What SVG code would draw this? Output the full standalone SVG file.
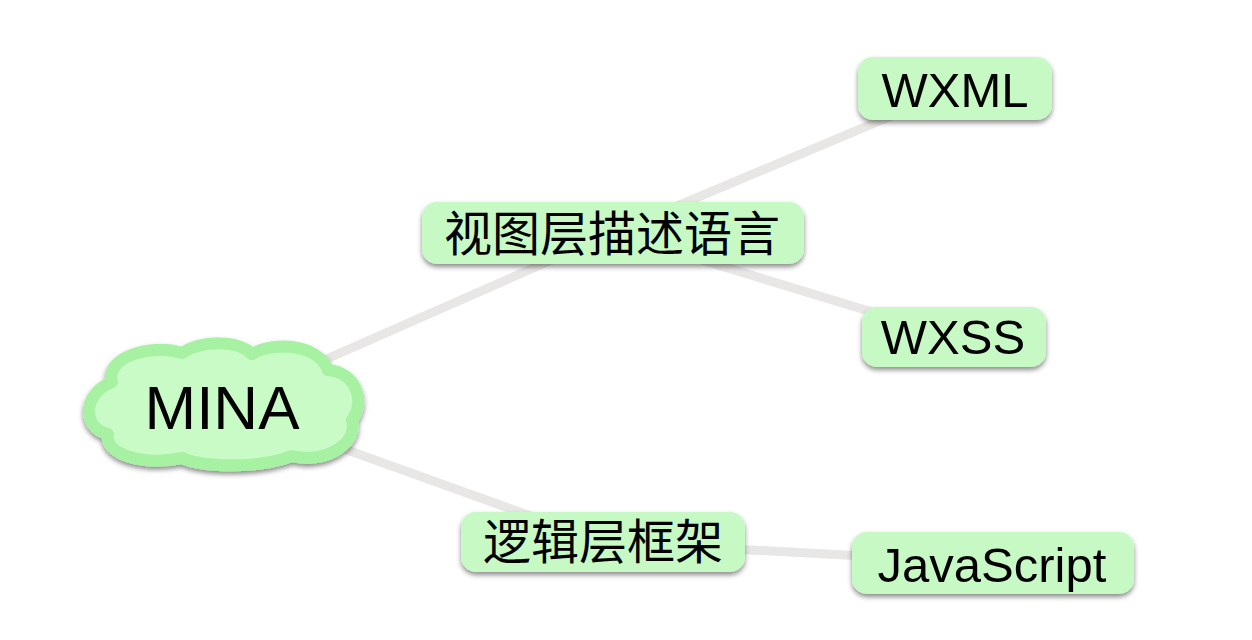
<svg xmlns="http://www.w3.org/2000/svg" width="1252" height="640" viewBox="0 0 1252 640">
<defs>
<filter id="sh" x="-20%" y="-30%" width="140%" height="170%">
<feDropShadow dx="0" dy="3" stdDeviation="2.5" flood-color="#000" flood-opacity="0.45"/>
</filter>
<style>
.box{fill:#c7f9c4;filter:url(#sh);}
.t{font-family:"Liberation Sans",Arial,sans-serif;font-size:49px;fill:#000;text-anchor:middle;}
.c{font-family:"Noto Sans CJK SC",sans-serif;font-size:48px;fill:#000;text-anchor:middle;}
.ln{stroke:#e9e7e6;stroke-width:9;stroke-linecap:round;fill:none;}
</style>
</defs>
<rect width="1252" height="640" fill="#fff"/>
<g id="connectors">
<line class="ln" x1="222" y1="405" x2="613" y2="233"/>
<line class="ln" x1="613" y1="233" x2="955" y2="89"/>
<line class="ln" x1="613" y1="233" x2="954" y2="337"/>
<line class="ln" x1="222" y1="405" x2="603" y2="542"/>
<line class="ln" x1="603" y1="542" x2="993" y2="563"/>
</g>
<g id="mina">
<path filter="url(#sh)" d="M112,382 C104,358 150,343 182,353 C202,340 238,340 252,354 C274,341 318,344 328,370 C356,372 366,402 352,420 C358,446 322,464 292,456 C262,468 204,468 182,458 C142,466 104,454 108,434 C82,428 82,394 112,382 Z" fill="#c8fbc5" stroke="#a6f1a2" stroke-width="12" stroke-linejoin="round"/>
<text class="t" x="222" y="429" style="font-size:62px">MINA</text>
</g>
<g id="view">
<rect class="box" x="422" y="202" width="382" height="62" rx="15"/>
<text class="c" x="612" y="251">视图层描述语言</text>
</g>
<g id="wxml">
<rect class="box" x="858" y="57" width="194" height="63" rx="15"/>
<text class="t" x="955" y="107">WXML</text>
</g>
<g id="wxss">
<rect class="box" x="862" y="307" width="184" height="60" rx="15"/>
<text class="t" x="953" y="354">WXSS</text>
</g>
<g id="logic">
<rect class="box" x="461" y="512" width="284" height="60" rx="15"/>
<text class="c" x="603" y="559">逻辑层框架</text>
</g>
<g id="js">
<rect class="box" x="852" y="532" width="282" height="62" rx="15"/>
<text class="t" x="992" y="582">JavaScript</text>
</g>
</svg>
